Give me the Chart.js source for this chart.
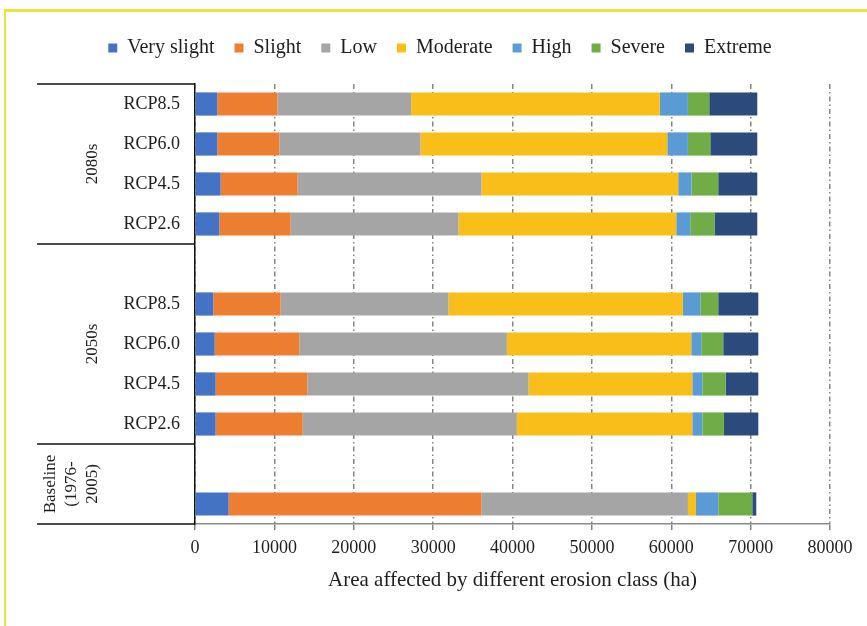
<!DOCTYPE html>
<html><head><meta charset="utf-8">
<script src="https://cdn.jsdelivr.net/npm/chart.js@4.4.1/dist/chart.umd.min.js"></script>
<style>
html,body{margin:0;padding:0;background:#fff;}
#wrap{position:relative;width:867px;height:626px;overflow:hidden;background:#fff;}
#frame{position:absolute;left:4px;top:9px;right:-10px;bottom:-10px;border-top:3px solid #eee33c;border-left:2px solid #eee33c;pointer-events:none;}
canvas{display:block;}
</style></head><body>
<div id="wrap"><canvas id="c" width="867" height="626"></canvas><div id="frame"></div></div>
<script>
// ---- data ----
const categories = ['RCP8.5','RCP6.0','RCP4.5','RCP2.6','','RCP8.5','RCP6.0','RCP4.5','RCP2.6','',''];
const categoryGroups = ['2080s','2080s','2080s','2080s','2050s','2050s','2050s','2050s','2050s','Baseline','Baseline'];
const groupTitles = {'2080s':['2080s'], '2050s':['2050s'], 'Baseline':['Baseline','(1976-','2005)']};
const seriesNames = ['Very slight','Slight','Low','Moderate','High','Severe','Extreme'];
const verySlight = [2810, 2810, 3230, 3060, null, 2310, 2480, 2600, 2600, null, 4240];
const slight     = [7560, 7810, 9700, 8990, null, 8480, 10660, 11550, 10960, null, 31850];
const low        = [16860, 17780, 23160, 21140, null, 21140, 26150, 27870, 26990, null, 26010];
const moderate   = [31340, 31100, 24790, 27440, null, 29540, 23230, 20630, 22100, null, 1010];
const high       = [3530, 2600, 1680, 1760, null, 2190, 1260, 1260, 1260, null, 2810];
const severe     = [2690, 2820, 3360, 3110, null, 2260, 2770, 2940, 2730, null, 4290];
const extreme    = [6050, 5920, 4920, 5340, null, 5050, 4420, 4120, 4330, null, 500];
const xTicks = [0, 10000, 20000, 30000, 40000, 50000, 60000, 70000, 80000];
const xTitle = 'Area affected by different erosion class (ha)';

// ---- styles ----
const colors = ['#4472C4','#ED7D31','#A5A5A5','#F9BE1A','#5B9BD5','#70AD47','#2C4A7C'];
const SERIF = "'Liberation Serif', 'Times New Roman', serif";
const TEXT = '#1e1e1e';
const values = [verySlight, slight, low, moderate, high, severe, extreme];

const PAD = {top: 18, left: 50, right: 37, bottom: 0};
const AREA_TOP = 84, AREA_BOTTOM = 524, AREA_LEFT = 195;

const legendBand = {
  id: 'legendBand',
  afterInit(chart) {
    const lg = chart.legend;
    if (!lg) return;
    const fit = lg.fit;
    lg.fit = function () { fit.call(this); this.height = AREA_TOP - PAD.top; };
  }
};

const groupDecor = {
  id: 'groupDecor',
  afterDraw(chart) {
    const {ctx, chartArea: {left, top, bottom}, scales: {y}} = chart;
    ctx.save();
    ctx.strokeStyle = '#111';
    ctx.lineWidth = 1.5;
    const lineLeft = left - 158;
    const bounds = [top];
    const spans = [];
    let start = 0;
    for (let i = 1; i <= categoryGroups.length; i++) {
      if (i === categoryGroups.length || categoryGroups[i] !== categoryGroups[i - 1]) {
        spans.push({name: categoryGroups[i - 1], a: start, b: i - 1});
        if (i < categoryGroups.length) bounds.push(y.getPixelForValue(i - 0.5));
        start = i;
      }
    }
    bounds.push(bottom);
    bounds.forEach(b => { ctx.beginPath(); ctx.moveTo(lineLeft, b); ctx.lineTo(left, b); ctx.stroke(); });
    ctx.fillStyle = TEXT;
    ctx.font = "17px " + SERIF;
    ctx.textAlign = 'center';
    ctx.textBaseline = 'middle';
    spans.forEach(s => {
      const lines = groupTitles[s.name];
      const cy = y.getPixelForValue((s.a + s.b) / 2);
      const lastX = left - 102;
      lines.forEach((t, k) => {
        const x = lastX - (lines.length - 1 - k) * 21;
        ctx.save();
        ctx.translate(x, cy);
        ctx.rotate(-Math.PI / 2);
        ctx.fillText(t, 0, 0);
        ctx.restore();
      });
    });
    ctx.restore();
  }
};

Chart.defaults.font.family = SERIF;
Chart.defaults.color = TEXT;

new Chart(document.getElementById('c'), {
  type: 'bar',
  data: {
    labels: categories,
    datasets: seriesNames.map((n, i) => ({
      label: n, data: values[i], backgroundColor: colors[i], borderWidth: 0,
      categoryPercentage: 1, barPercentage: 0.58
    }))
  },
  options: {
    indexAxis: 'y',
    responsive: false,
    animation: false,
    devicePixelRatio: 1,
    layout: {padding: PAD},
    plugins: {
      legend: {
        position: 'top',
        labels: {font: {size: 20, family: SERIF}, color: TEXT, boxWidth: 9, boxHeight: 9, padding: 20}
      },
      tooltip: {enabled: false}
    },
    scales: {
      x: {
        stacked: true, min: xTicks[0], max: xTicks[xTicks.length - 1],
        afterBuildTicks: s => { s.ticks = xTicks.map(v => ({value: v})); },
        afterFit: s => { s.height = 626 - AREA_BOTTOM - PAD.bottom; },
        ticks: {font: {size: 18}, color: TEXT, padding: 7, maxRotation: 0, callback: v => String(v)},
        grid: {color: '#858585', lineWidth: 1.5, drawTicks: true, tickLength: 6, tickColor: '#858585', tickWidth: 1.5},
        border: {display: true, color: '#8a8a8a', width: 1.5, dash: [5, 3, 1.5, 3]},
        title: {display: true, text: xTitle, font: {size: 21}, color: TEXT, padding: {top: 0, bottom: 33}}
      },
      y: {
        stacked: true,
        afterFit: s => { s.width = AREA_LEFT - PAD.left; },
        ticks: {font: {size: 18}, color: TEXT, padding: 15},
        grid: {display: true, drawOnChartArea: false, drawTicks: false, tickLength: 0},
        border: {display: true, color: '#111', width: 1.5}
      }
    }
  },
  plugins: [legendBand, groupDecor]
});
</script>
</body></html>
